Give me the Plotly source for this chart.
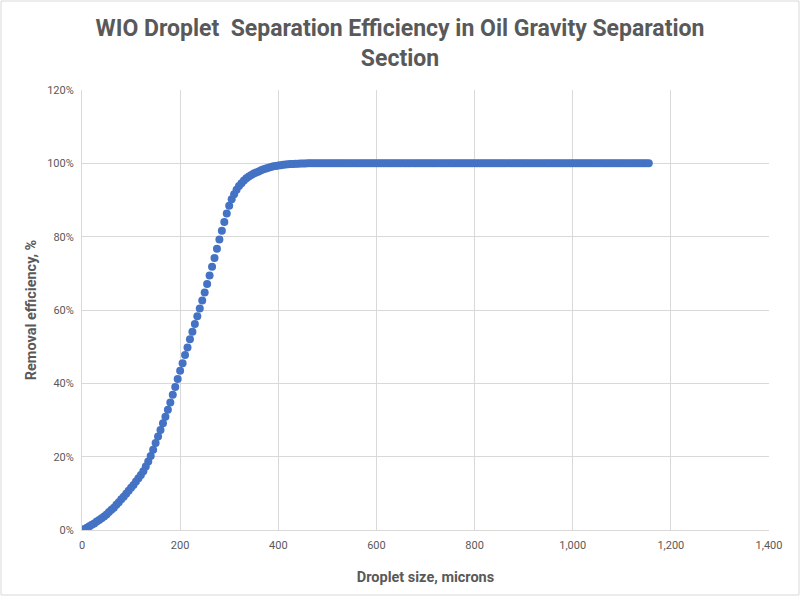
import plotly.graph_objects as go

# Droplet size (microns), one point every 5 microns
droplet_size = list(range(0, 1160, 5))

# Removal efficiency (%) for the rising part (0..460 microns)
efficiency_rise = [
    0.0, 0.3, 0.6, 1.0, 1.4, 1.8, 2.3, 2.7, 3.2, 3.7,
    4.2, 4.9, 5.5, 6.1, 6.9, 7.6, 8.4, 9.1, 9.9, 10.7,
    11.5, 12.3, 13.2, 14.1, 15.0, 16.0, 17.3, 18.7, 20.2, 21.9,
    23.7, 25.5, 27.3, 29.1, 30.9, 32.8, 34.8, 36.9, 39.0, 41.2,
    43.4, 45.5, 47.7, 49.8, 52.0, 54.1, 56.2, 58.3, 60.4, 62.6,
    64.8, 67.1, 69.4, 71.8, 74.2, 76.7, 79.2, 81.6, 84.0, 86.3,
    88.4, 90.2, 91.6, 92.8, 93.8, 94.6, 95.3, 95.9, 96.4, 96.8,
    97.2, 97.5, 97.8, 98.1, 98.4, 98.6, 98.8, 99.0, 99.2, 99.3,
    99.4, 99.5, 99.6, 99.7, 99.75, 99.8, 99.85, 99.9, 99.92, 99.95,
    99.97, 99.98, 99.99,
]
# Flat plateau at 100% for the rest of the sizes
efficiency_plateau = [100.0] * (len(droplet_size) - len(efficiency_rise))
efficiency = [v / 100.0 for v in efficiency_rise + efficiency_plateau]

x_ticks = [0, 200, 400, 600, 800, 1000, 1200, 1400]
y_ticks = [0, 0.2, 0.4, 0.6, 0.8, 1.0, 1.2]

TITLE = "WIO Droplet  Separation Efficiency in Oil Gravity Separation<br>Section"
X_TITLE = "Droplet size, microns"
Y_TITLE = "Removal efficiency, %"

GRAY = "#595959"
GRID = "#d9d9d9"
FONT = "Roboto, Liberation Sans, sans-serif"

fig = go.Figure()
fig.add_trace(go.Scatter(
    x=droplet_size, y=efficiency, mode="markers",
    marker=dict(color="#4472C4", size=8, line=dict(width=0)),
    hoverinfo="x+y", showlegend=False,
))

fig.update_layout(
    width=800, height=596,
    paper_bgcolor="white", plot_bgcolor="white",
    margin=dict(l=82, r=31, t=90, b=66, autoexpand=False),
    font=dict(family=FONT, color=GRAY),
    title=dict(text="<b>" + TITLE + "</b>", x=0.5, xanchor="center",
               y=0.94, yanchor="top",
               font=dict(size=23, color=GRAY, family=FONT)),
    xaxis=dict(range=[0, 1400], tickvals=x_ticks, tickformat=",d",
               showgrid=True, gridcolor=GRID, gridwidth=1,
               zeroline=False, showline=True, linecolor=GRID,
               ticks="", tickfont=dict(size=11, color=GRAY), automargin=False,
               ticklabelstandoff=5,
               title=dict(text="<b>" + X_TITLE + "</b>", font=dict(size=14.5, color=GRAY), standoff=20)),
    yaxis=dict(range=[0, 1.2], tickvals=y_ticks, tickformat=".0%",
               showgrid=True, gridcolor=GRID, gridwidth=1,
               zeroline=False, showline=True, linecolor=GRID,
               ticks="", tickfont=dict(size=11, color=GRAY), automargin=False,
               ticklabelstandoff=5,
               title=dict(text="<b>" + Y_TITLE + "</b>", font=dict(size=14.5, color=GRAY), standoff=7)),
)

fig.add_shape(type="rect", xref="paper", yref="paper",
              x0=-81/687, x1=1+30/687, y0=-65/440, y1=1+89/440,
              line=dict(color=GRID, width=1), layer="below")

fig.write_html("out.html", config={"displayModeBar": False},
               post_script="document.body.style.margin='0';document.body.style.overflow='hidden';")
